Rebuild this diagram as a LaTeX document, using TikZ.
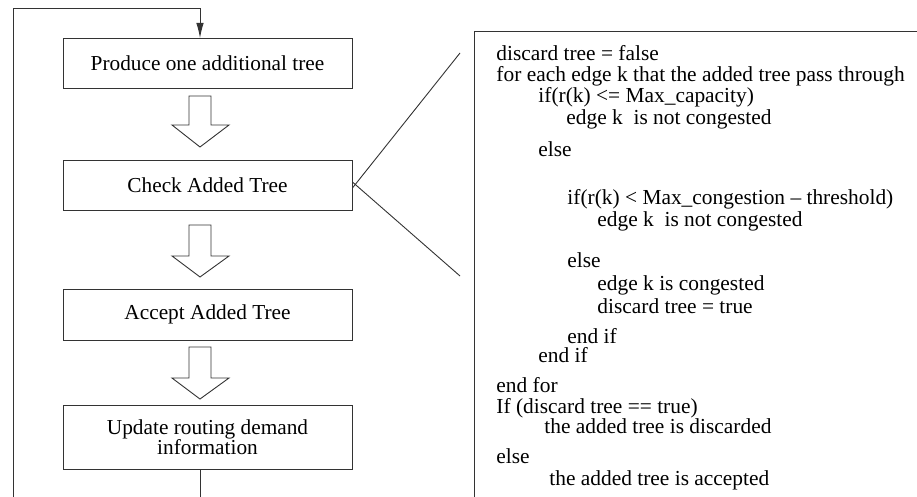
\documentclass[tikz,border=0pt]{standalone}
\usepackage{fontspec}
\setmainfont{Liberation Serif}
\usetikzlibrary{arrows.meta}
\begin{document}
\begin{tikzpicture}[x=1pt,y=-1pt, line width=0.9pt,
  stepbox/.style={draw=black!80, minimum width=289pt, inner sep=0pt, align=center,
    font=\fontsize{21.3}{20.5}\selectfont},
  code/.style={anchor=base west, inner sep=0pt, font=\fontsize{21.4}{24}\selectfont},
  blockarrow/.style={draw=black!80, fill=white, line join=miter},
  conn/.style={draw=black!80}]
\useasboundingbox (0,0) rectangle (917,497);
% flow boxes
\node[stepbox, minimum height=50pt] (b1) at (207.5,63) {Produce one additional tree};
\node[stepbox, minimum height=50pt] (b2) at (207.5,185) {Check Added Tree};
\node[stepbox, minimum height=51pt] (b3) at (207.5,314.5) {Accept Added Tree};
\node[stepbox, minimum height=64pt] (b4) at (207.5,437) {Update routing demand\\information};
% block arrows
\draw[blockarrow] (189,96) -- (211,96) -- (211,125) -- (229,125) -- (200,147) -- (172,125) -- (189,125) -- cycle;
\draw[blockarrow] (189,225) -- (211,225) -- (211,256) -- (229,256) -- (200,277) -- (172,256) -- (189,256) -- cycle;
\draw[blockarrow] (189,347) -- (211,347) -- (211,378) -- (229,378) -- (200,399) -- (172,378) -- (189,378) -- cycle;
% feedback loop
\coordinate (fbbot) at (13,497);
\coordinate (fbtop) at (13,8);
\coordinate (b1in) at (200,38);
\coordinate (b4out) at (200,469);
\coordinate (loopend) at (200,497);
\draw[conn, -{Latex[length=15pt,width=7.5pt]}] (fbbot) -- (fbtop) -| (b1in);
\draw[conn] (b4out) -- (loopend);
% zoom lines
\coordinate (zu) at (460,53);
\coordinate (zl) at (460,276);
\draw[conn] ([yshift=-3pt]b2.east) -- (zu);
\draw[conn] ([yshift=3pt]b2.east) -- (zl);
% code box (cropped)
\coordinate (cbl) at (474,497);
\coordinate (ctl) at (474,31);
\coordinate (ctr) at (917,31);
\draw[conn] (cbl) -- (ctl) -- (ctr);
% code text
\node[code] (l1) at (496,61) {discard tree = false};
\node[code] (l2) at (496,82) {for each edge k that the added tree pass through};
\node[code] (l3) at (538,103) {if(r(k) <= Max\_capacity)};
\node[code] (l4) at (566,124.5) {edge k\ \ is not congested};
\node[code] (l5) at (538,157) {else};
\node[code] (l6) at (567,204) {if(r(k) < Max\_congestion – threshold)};
\node[code] (l7) at (597,226) {edge k\ \ is not congested};
\node[code] (l8) at (567,267) {else};
\node[code] (l9) at (597,290) {edge k is congested};
\node[code] (l10) at (597,313) {discard tree = true};
\node[code] (l11) at (567,343) {end if};
\node[code] (l12) at (538,362) {end if};
\node[code] (l13) at (496,392) {end for};
\node[code] (l14) at (496,413) {If (discard tree == true)};
\node[code] (l15) at (544,433) {the added tree is discarded};
\node[code] (l16) at (496,463) {else};
\node[code] (l17) at (549,485) {the added tree is accepted};
\end{tikzpicture}
\end{document}
